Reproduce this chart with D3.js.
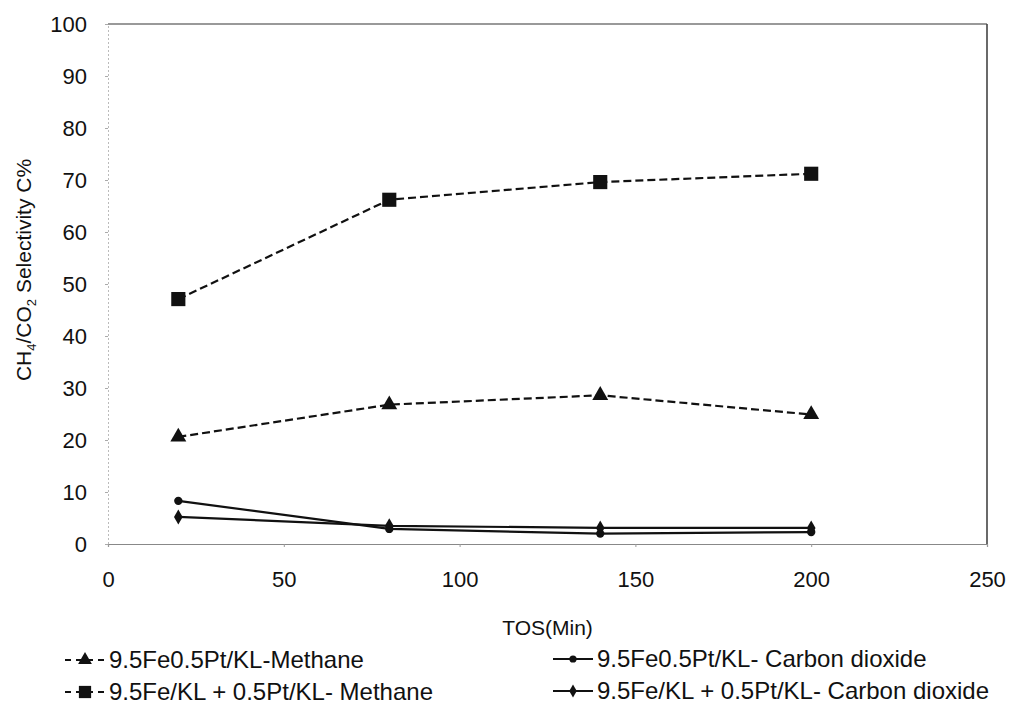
<!DOCTYPE html>
<html><head><meta charset="utf-8">
<script src="https://cdn.jsdelivr.net/npm/d3@7/dist/d3.min.js"></script>
<style>body{margin:0;background:#fff}svg{display:block}text{font-family:"Liberation Sans",Arial,sans-serif;fill:#111}</style>
</head><body><svg id="c" width="1010" height="705"></svg>
<script>
const tos = [20, 80, 140, 200];
const feptMethane = [20.6, 26.8, 28.6, 24.9];
const mixMethane = [47.1, 66.2, 69.6, 71.2];
const feptCO2 = [8.3, 2.9, 2.0, 2.3];
const mixCO2 = [5.2, 3.5, 3.1, 3.1];
const xTicks = [0, 50, 100, 150, 200, 250];
const yTicks = [0, 10, 20, 30, 40, 50, 60, 70, 80, 90, 100];
const seriesNames = ["9.5Fe0.5Pt/KL-Methane", "9.5Fe0.5Pt/KL- Carbon dioxide", "9.5Fe/KL + 0.5Pt/KL- Methane", "9.5Fe/KL + 0.5Pt/KL- Carbon dioxide"];

const svg = d3.select("#c");
const x = d3.scaleLinear().domain([0, 250]).range([108, 987]);
const y = d3.scaleLinear().domain([0, 100]).range([544, 24]);

// frame
svg.append("line").attr("x1", x(0)).attr("x2", x(250)).attr("y1", y(100)).attr("y2", y(100)).attr("stroke", "#777").attr("stroke-width", 1.5);
svg.append("line").attr("x1", x(250)).attr("x2", x(250)).attr("y1", y(100)).attr("y2", y(0)).attr("stroke", "#444").attr("stroke-width", 1.6);

// axes
const xa = svg.append("g").attr("transform", `translate(0,${y(0)})`)
  .call(d3.axisBottom(x).tickValues(xTicks).tickSize(3).tickPadding(24));
xa.select(".domain").attr("stroke", "#888").attr("stroke-width", 1.2);
xa.selectAll(".tick line").attr("stroke", "#999");
xa.selectAll("text").style("font-size", "22px").style("font-family", "Liberation Sans, Arial, sans-serif").attr("fill", "#111");
const ya = svg.append("g").attr("transform", `translate(${x(0)},0)`)
  .call(d3.axisLeft(y).tickValues(yTicks).tickSize(3).tickPadding(18));
ya.select(".domain").attr("stroke", "#bbb").attr("stroke-width", 1).attr("stroke-dasharray", "2,2");
ya.selectAll(".tick line").attr("stroke", "#aaa");
ya.selectAll("text").style("font-size", "22px").style("font-family", "Liberation Sans, Arial, sans-serif").attr("fill", "#111");

// axis titles
svg.append("text").attr("x", x(125)).attr("y", 635).attr("text-anchor", "middle").style("font-size", "21px").text("TOS(Min)");
const yt = svg.append("text").attr("transform", `translate(31,270) rotate(-90)`).attr("text-anchor", "middle").style("font-size", "21px");
yt.append("tspan").text("CH");
yt.append("tspan").text("4").style("font-size", "13px").attr("dy", 5);
yt.append("tspan").text("/CO").attr("dy", -5);
yt.append("tspan").text("2").style("font-size", "13px").attr("dy", 5);
yt.append("tspan").text(" Selectivity C%").attr("dy", -5);

const line = d3.line().x((d, i) => x(tos[i])).y(d => y(d));
const series = [
  {vals: feptMethane, dash: "8,4", sym: d3.symbolTriangle, size: 110},
  {vals: feptCO2, dash: null, sym: d3.symbolCircle, size: 55},
  {vals: mixMethane, dash: "8,4", sym: d3.symbolSquare, size: 200},
  {vals: mixCO2, dash: null, sym: d3.symbolDiamond, size: 65}
];
series.forEach(s => {
  svg.append("path").datum(s.vals).attr("d", line).attr("fill", "none").attr("stroke", "#111")
    .attr("stroke-width", 2.2).attr("stroke-dasharray", s.dash);
  svg.selectAll(null).data(s.vals).enter().append("path")
    .attr("d", d3.symbol().type(s.sym).size(s.size))
    .attr("transform", (d, i) => `translate(${x(tos[i])},${y(d)})`).attr("fill", "#111");
});

// legend
const legPos = [[65, 660], [553, 659], [65, 692], [553, 691]];
series.forEach((s, i) => {
  const [lx, ly] = legPos[i];
  const g = svg.append("g").attr("transform", `translate(${lx},${ly})`);
  g.append("line").attr("x1", 0).attr("x2", 40).attr("y1", 0).attr("y2", 0).attr("stroke", "#111").attr("stroke-width", 2).attr("stroke-dasharray", s.dash ? "6,5" : null);
  g.append("path").attr("d", d3.symbol().type(s.sym).size(s.size * 0.75)).attr("transform", "translate(20,0)").attr("fill", "#111");
  g.append("text").attr("x", 44).attr("y", 8).style("font-size", "24px").text(seriesNames[i]);
});
</script></body></html>
